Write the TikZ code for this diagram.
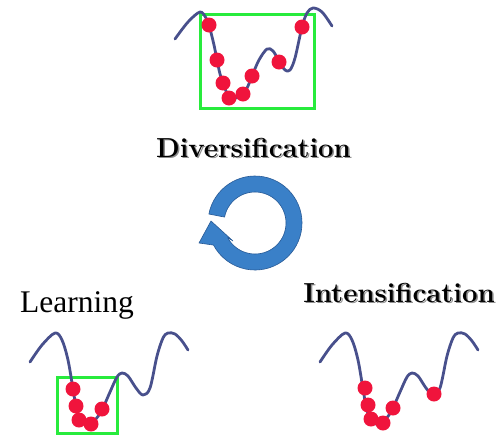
\documentclass[tikz,border=0pt]{standalone}
\usepackage{fontspec}
\newfontfamily\timesfont{Liberation Serif}
\usetikzlibrary{calc}
\definecolor{curveblue}{RGB}{72,80,140}
\definecolor{dotred}{RGB}{240,20,60}
\definecolor{boxgreen}{RGB}{40,235,60}
\definecolor{ringblue}{RGB}{58,128,200}
\definecolor{ringedge}{RGB}{40,90,150}
\begin{document}
\begin{tikzpicture}[x=1pt,y=-1pt,
  curve/.style={curveblue, line width=2.8pt, line cap=round, line join=round},
  dot/.style={fill=dotred},
  gbox/.style={draw=boxgreen, line width=3pt},
  title/.style={font=\fontsize{27.5}{30}\selectfont\bfseries, inner sep=0pt},
  shadowtitle/.style={title, text=black!45},
  learnlabel/.style={font=\timesfont\fontsize{31.5}{34}\selectfont, inner sep=0pt}]
\useasboundingbox (0,0) rectangle (502,437);

% ---- top landscape ----
\draw[gbox] (200,14) rectangle (314,108);
\draw[curve] plot[smooth, tension=0.55] coordinates {
  (175,39) (188,22) (200,12) (206,18) (209,25) (214,45) (217,60) (220,74) (223,83)
  (229,97) (236,98) (243,94) (248,86) (252,76) (259,60) (267,49) (273,51)
  (279,61) (285,70) (290,70) (295,58) (302,27) (307,13) (313,8) (322,12) (332,26)};
\foreach \p in {(209,25),(217,60),(223,83),(229,98),(243,94),(252,76),(279,62),(302,27)}
  \fill[dot] \p circle[radius=7.5pt];

% ---- titles ----
\node (divshadow) [shadowtitle, anchor=base] at (255,158.5) {Diversification};
\node (div) [title, anchor=base] at (253.5,157) {Diversification};
\node (intshadow) [shadowtitle, anchor=base] at (400.5,303.5) {Intensification};
\node (int) [title, anchor=base] at (399,302) {Intensification};
\node (learn) [learnlabel, anchor=base west] at (20,312) {Learning};

% ---- circular arrow ----
\coordinate (c) at (255,223);
\filldraw[fill=ringblue, draw=ringedge, line width=0.6pt, line join=round]
  ($(c)+(169:47pt)$) arc[start angle=169, end angle=-152, radius=47pt]
  -- (199,243) -- (211,221) -- (233,241)
  -- ($(c)+(-152:31pt)$) arc[start angle=-152, end angle=169, radius=31pt]
  -- cycle;

% ---- bottom-left landscape ----
\draw[gbox] (57,377) rectangle (117,433);
\draw[curve] plot[smooth, tension=0.55] coordinates {
  (30,362) (42,345) (55,333) (62,340) (68,360) (73,389) (76,406) (80,419) (86,424)
  (92,423) (99,415) (103,408) (110,392) (117,377) (122,373) (128,376) (136,388)
  (143,395) (150,388) (157,356) (163,338) (168,333) (175,334) (182,341) (188,350)};
\foreach \p in {(73,389),(76,406),(79,420),(91,424),(102,409)}
  \fill[dot] \p circle[radius=7.5pt];

% ---- bottom-right landscape ----
\begin{scope}[shift={(290,0)}]
\draw[curve] plot[smooth, tension=0.55] coordinates {
  (30,362) (42,345) (55,333) (62,340) (68,360) (73,389) (76,406) (80,419) (86,424)
  (92,423) (99,415) (103,408) (110,392) (117,377) (122,373) (128,376) (136,388)
  (143,395) (150,388) (157,356) (163,338) (168,333) (175,334) (182,341) (188,350)};
\foreach \p in {(75,388),(78,405),(81,419),(93,423),(103,408),(144,394)}
  \fill[dot] \p circle[radius=7.5pt];
\end{scope}
\end{tikzpicture}
\end{document}
